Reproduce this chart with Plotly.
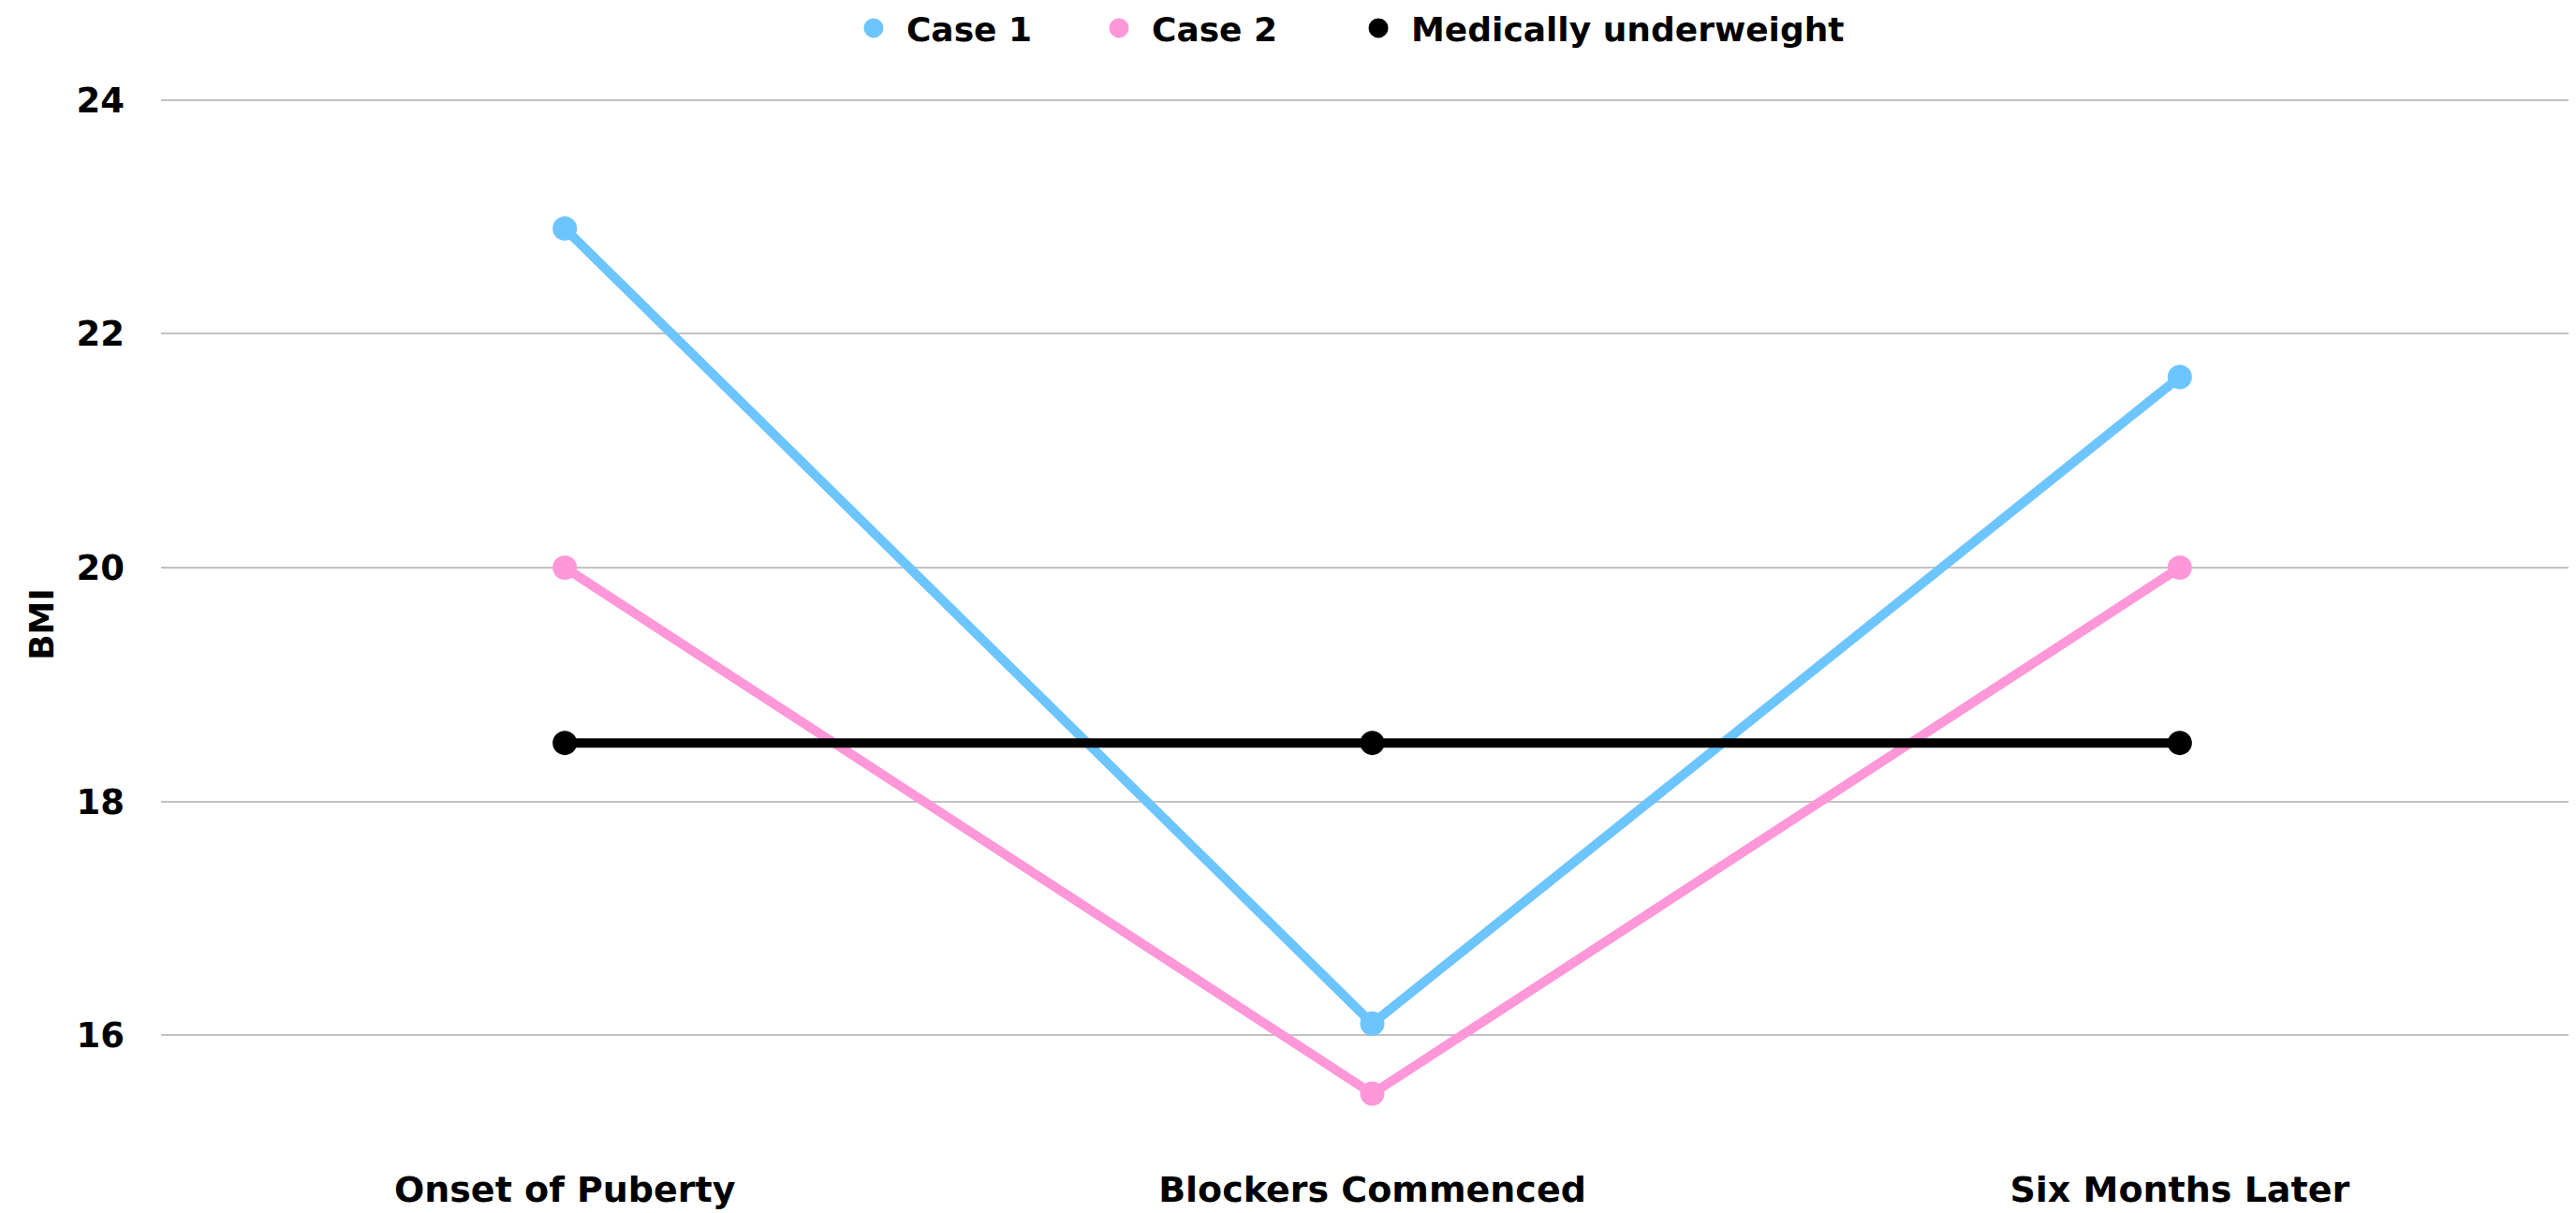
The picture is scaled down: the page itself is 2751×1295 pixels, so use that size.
import plotly.graph_objects as go

categories = ["Onset of Puberty", "Blockers Commenced", "Six Months Later"]
case1 = [22.9, 16.1, 21.63]
case2 = [20.0, 15.5, 20.0]
underweight = [18.5, 18.5, 18.5]
y_ticks = [16, 18, 20, 22, 24]

FONT = "DejaVu Sans"
series = [
    ("Case 1", case1, "#6CC5FF"),
    ("Case 2", case2, "#FF97D9"),
    ("Medically underweight", underweight, "#000000"),
]
legend_ids = ["legend", "legend2", "legend3"]
legend_x = [0.2806, 0.3819, 0.489]

fig = go.Figure()
for name, vals, col in series:
    fig.add_trace(go.Scatter(
        x=categories, y=vals, mode="lines+markers", name=name,
        line=dict(color=col, width=10), marker=dict(color=col, size=26),
        showlegend=False, hoverinfo="x+y+name"))
for (name, vals, col), lid in zip(series, legend_ids):
    fig.add_trace(go.Scatter(
        x=[None], y=[None], mode="markers", name=name, legend=lid,
        marker=dict(color=col, size=26, line=dict(color=col, width=5)),
        showlegend=True))

leg_common = dict(orientation="h", xanchor="left", y=0.983, yanchor="middle",
                  yref="container", font=dict(size=36, family=FONT, weight="bold"),
                  itemwidth=60, bgcolor="rgba(0,0,0,0)")
legends = {lid: dict(x=lx, **leg_common) for lid, lx in zip(legend_ids, legend_x)}

fig.update_layout(
    width=2751, height=1295,
    paper_bgcolor="white", plot_bgcolor="white",
    margin=dict(l=164, r=0, t=95, b=73),
    font=dict(family=FONT, color="#000000", size=36),
    xaxis=dict(type="category", range=[-0.5, 2.5], showgrid=False, zeroline=False,
               showline=False, ticks="", tickfont=dict(size=38, weight="bold"),
               ticklabelstandoff=14, automargin=False),
    yaxis=dict(range=[15, 24.03], tickvals=y_ticks, showgrid=True, gridcolor="#C2C2C2",
               gridwidth=2, zeroline=False, showline=False, ticks="",
               ticklabelstandoff=38, tickfont=dict(size=37, weight="bold"),
               title=dict(text="BMI", font=dict(size=36, weight="bold"), standoff=12),
               automargin=False),
    **legends,
)
fig.write_html("out.html")
